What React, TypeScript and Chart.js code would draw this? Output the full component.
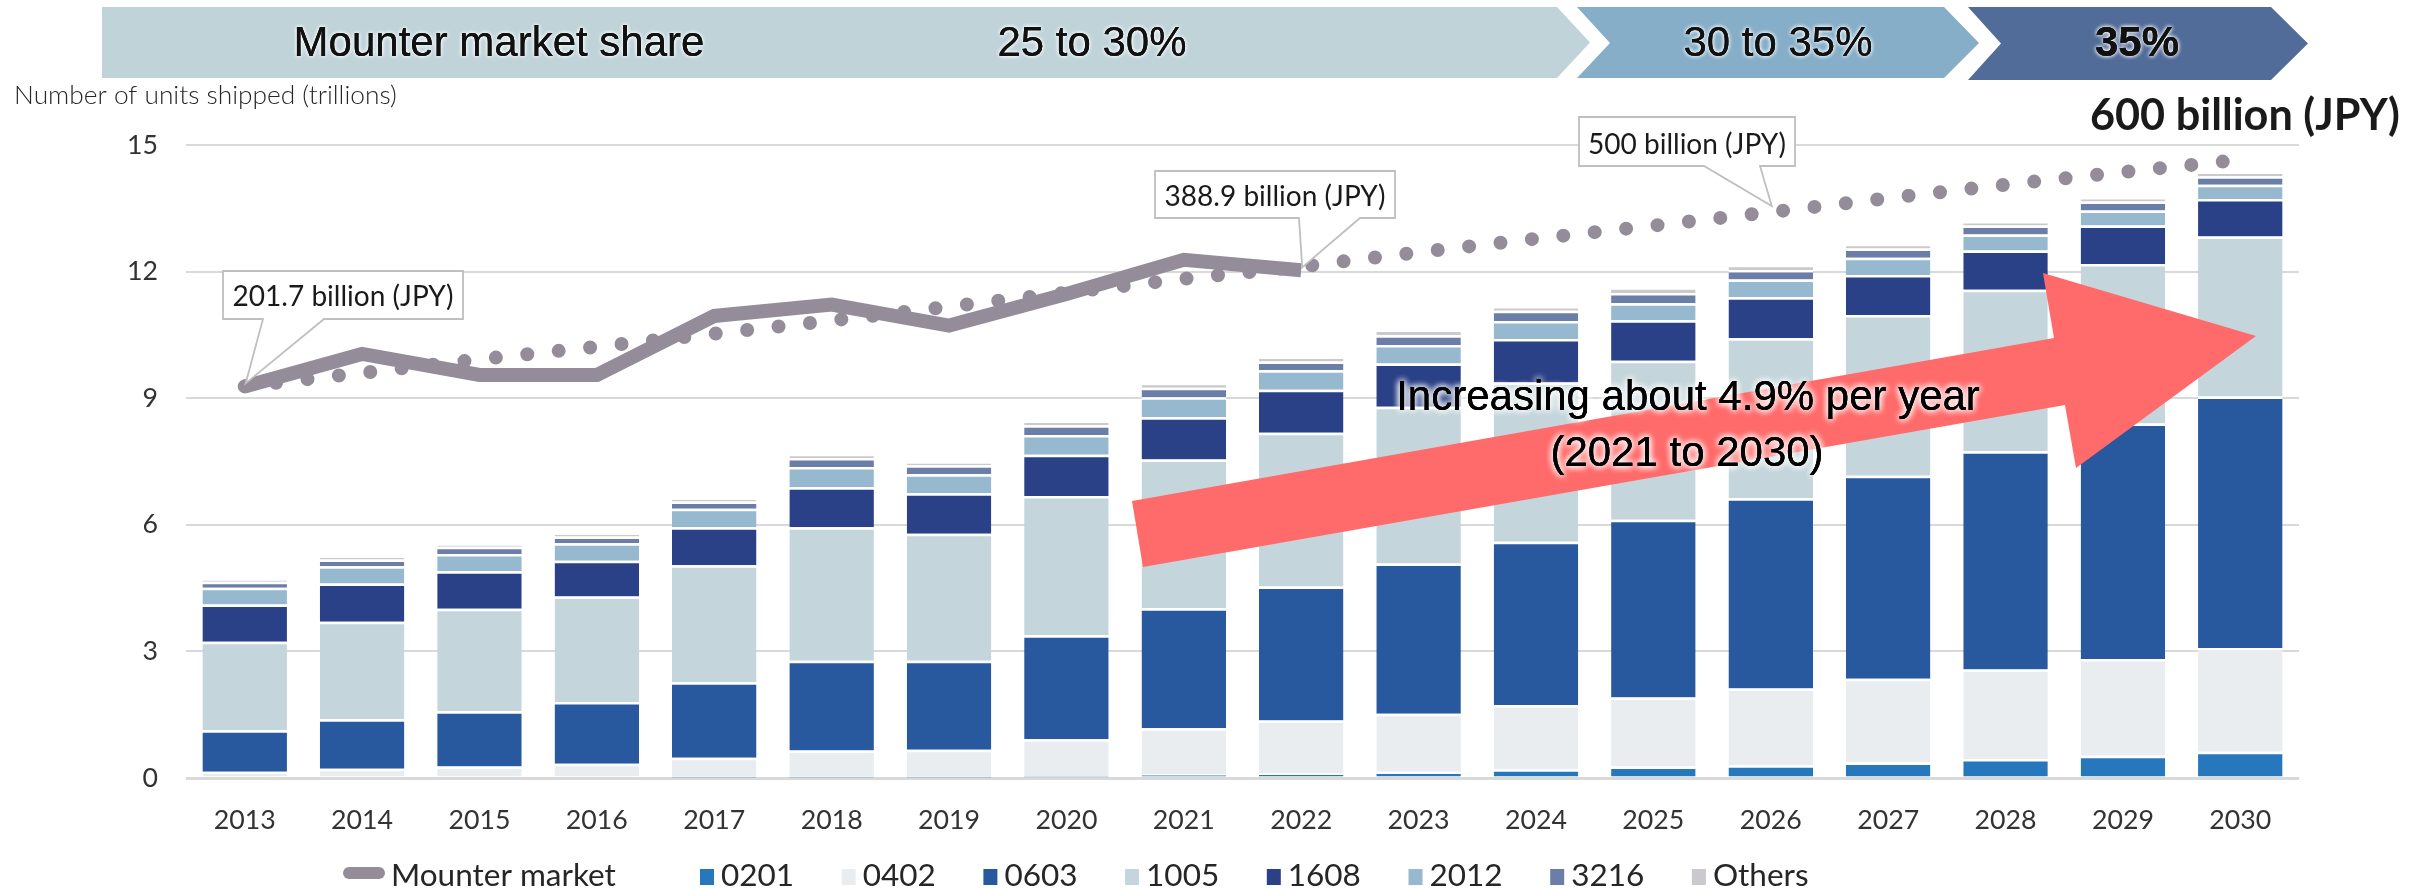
import React, { useEffect, useRef } from 'react';
import { Chart, registerables } from 'chart.js';

Chart.register(...registerables);

// ---------------- data ----------------
const years = ['2013', '2014', '2015', '2016', '2017', '2018', '2019', '2020', '2021', '2022', '2023', '2024', '2025', '2026', '2027', '2028', '2029', '2030'];

const units0201 = [0, 0, 0, 0, 0.01, 0.01, 0.01, 0.02, 0.08, 0.11, 0.15, 0.21, 0.27, 0.30, 0.37, 0.45, 0.53, 0.62];
const units0402 = [0.15, 0.22, 0.27, 0.34, 0.47, 0.64, 0.66, 0.90, 1.10, 1.25, 1.37, 1.52, 1.64, 1.82, 1.98, 2.12, 2.29, 2.46];
const units0603 = [0.98, 1.17, 1.31, 1.46, 1.79, 2.13, 2.11, 2.46, 2.84, 3.18, 3.56, 3.87, 4.21, 4.51, 4.81, 5.17, 5.58, 5.96];
const units1005 = [2.10, 2.31, 2.43, 2.50, 2.77, 3.16, 3.01, 3.30, 3.53, 3.64, 3.72, 3.77, 3.77, 3.79, 3.81, 3.83, 3.78, 3.79];
const units1608 = [0.88, 0.91, 0.89, 0.85, 0.90, 0.95, 0.96, 0.98, 1.00, 1.02, 1.02, 1.03, 0.96, 0.97, 0.95, 0.93, 0.91, 0.89];
const units2012 = [0.40, 0.41, 0.41, 0.41, 0.44, 0.48, 0.45, 0.47, 0.47, 0.46, 0.44, 0.43, 0.40, 0.42, 0.41, 0.38, 0.36, 0.34];
const units3216 = [0.14, 0.16, 0.17, 0.16, 0.17, 0.21, 0.21, 0.23, 0.23, 0.21, 0.23, 0.24, 0.24, 0.23, 0.22, 0.21, 0.21, 0.20];
const unitsOthers = [0.05, 0.07, 0.05, 0.08, 0.07, 0.09, 0.07, 0.11, 0.11, 0.12, 0.14, 0.11, 0.14, 0.12, 0.10, 0.10, 0.10, 0.10];

const mounterMarket = [9.28, 10.05, 9.55, 9.55, 10.95, 11.22, 10.72, 11.47, 12.28, 12.03, null, null, null, null, null, null, null, null];
const mounterTrend = [9.28, 9.60, 9.92, 10.22, 10.53, 10.84, 11.17, 11.50, 11.83, 12.12, 12.46, 12.78, 13.09, 13.41, 13.74, 14.06, 14.36, 14.65];

const yTicks = [0, 3, 6, 9, 12, 15];

const sizeLabels = ['0201', '0402', '0603', '1005', '1608', '2012', '3216', 'Others'];
const sizeColors = ['#2777bd', '#e9edf0', '#28589e', '#c4d6db', '#2b4187', '#97b9cf', '#6a7ea8', '#cbc9ce'];
const sizeSeries = [units0201, units0402, units0603, units1005, units1608, units2012, units3216, unitsOthers];

const lineLabel = 'Mounter market';
const yTitle = 'Number of units shipped (trillions)';
const shareTitle = 'Mounter market share';
const shareBands = ['25 to 30%', '30 to 35%', '35%'];
const callout2013 = '201.7 billion (JPY)';
const callout2022 = '388.9 billion (JPY)';
const callout2026 = '500 billion (JPY)';
const endValue = '600 billion (JPY)';
const growthLine1 = 'Increasing about 4.9% per year';
const growthLine2 = '(2021 to 2030)';

// ---------------- style ----------------
const LINE_COLOR = '#948d99';
const BAND_COLORS = ['#bfd3d9', '#86aec8', '#526c99'];
const ARROW_COLOR = '#ff6a6a';
const SANS = '"Liberation Sans", Arial, sans-serif';
const CAL = 'Lato, "Open Sans", sans-serif';
const TEXT_DARK = '#262626';

function fitSize(text: string, family: string, weight: string, target: number) {
  const c = document.createElement('canvas').getContext('2d')!;
  c.font = `${weight} 100px ${family}`;
  const w = c.measureText(text).width || 1;
  return (100 * target) / w;
}

function glowText(ctx: CanvasRenderingContext2D, text: string, x: number, y: number, font: string, color: string, blur: number, passes: number) {
  ctx.save();
  ctx.font = font;
  ctx.textAlign = 'center';
  ctx.textBaseline = 'alphabetic';
  ctx.fillStyle = color;
  ctx.shadowColor = 'rgba(255,255,255,1)';
  ctx.shadowBlur = blur;
  for (let i = 0; i < passes; i++) ctx.fillText(text, x, y);
  ctx.shadowBlur = 0;
  ctx.fillText(text, x, y);
  ctx.restore();
}

function callout(ctx: CanvasRenderingContext2D, box: number[], base: number[], tip: { x: number; y: number }, text: string, baseline: number, font: string) {
  const [l, t, w, h] = box;
  const b = t + h;
  ctx.save();
  ctx.beginPath();
  ctx.moveTo(l, t);
  ctx.lineTo(l + w, t);
  ctx.lineTo(l + w, b);
  ctx.lineTo(base[1], b);
  ctx.lineTo(tip.x, tip.y);
  ctx.lineTo(base[0], b);
  ctx.lineTo(l, b);
  ctx.closePath();
  ctx.fillStyle = '#ffffff';
  ctx.fill();
  ctx.strokeStyle = '#bfbfbf';
  ctx.lineWidth = 1.8;
  ctx.stroke();
  ctx.font = font;
  ctx.fillStyle = '#1a1a1a';
  ctx.textAlign = 'center';
  ctx.textBaseline = 'alphabetic';
  ctx.fillText(text, l + w / 2, baseline);
  ctx.restore();
}

export default function App() {
  const ref = useRef<HTMLCanvasElement>(null);

  useEffect(() => {
    document.body.style.margin = '0';
    const tickSize = fitSize('2013', CAL, 'normal', 62);
    const legendSize = fitSize('Mounter market', CAL, 'normal', 225);
    const titleSize = fitSize(yTitle, CAL, '300', 383);
    const calloutSize = fitSize(callout2013, CAL, 'normal', 221);
    const endSize = fitSize(endValue, CAL, 'bold', 310);

    const overlay = {
      id: 'overlay',
      beforeDraw(chart: any) {
        const ctx: CanvasRenderingContext2D = chart.ctx;
        ctx.save();
        // share banner chevrons
        const bands = [
          [[102, 7], [1557, 7], [1590, 42.5], [1557, 78], [102, 78]],
          [[1577, 7], [1944, 7], [1979, 43], [1944, 78], [1577, 78], [1610, 43]],
          [[1968, 7], [2271, 7], [2308, 43.5], [2271, 80], [1968, 80], [2001, 43.5]],
        ];
        bands.forEach((pts, i) => {
          ctx.beginPath();
          pts.forEach(([x, y], j) => (j ? ctx.lineTo(x, y) : ctx.moveTo(x, y)));
          ctx.closePath();
          ctx.fillStyle = BAND_COLORS[i];
          ctx.fill();
        });
        ctx.restore();
        const bf = `normal 42px ${SANS}`;
        glowText(ctx, shareTitle, 499, 55.5, bf, '#111111', 4, 2);
        glowText(ctx, shareBands[0], 1092, 55.5, bf, '#111111', 4, 2);
        glowText(ctx, shareBands[1], 1778, 55.5, bf, '#111111', 4, 2);
        glowText(ctx, shareBands[2], 2137, 56, `bold 42px ${SANS}`, '#111111', 4, 2);

        // y axis title
        ctx.save();
        ctx.font = `300 ${titleSize}px ${CAL}`;
        ctx.fillStyle = '#262626';
        ctx.textAlign = 'left';
        ctx.textBaseline = 'alphabetic';
        ctx.fillText(yTitle, 14, 104);
        ctx.restore();
      },
      afterDatasetsDraw(chart: any) {
        const ctx: CanvasRenderingContext2D = chart.ctx;
        // big growth arrow
        const arrow = [[1132, 501], [2054, 338], [2043, 273], [2256, 336], [2076, 468], [2065, 405], [1143, 567]];
        ctx.save();
        ctx.beginPath();
        arrow.forEach(([x, y], j) => (j ? ctx.lineTo(x, y) : ctx.moveTo(x, y)));
        ctx.closePath();
        ctx.fillStyle = ARROW_COLOR;
        ctx.fill();
        ctx.restore();
        const af = `normal 42px ${SANS}`;
        glowText(ctx, growthLine1, 1688, 410, af, '#000000', 7, 3);
        glowText(ctx, growthLine2, 1687, 466, af, '#000000', 7, 3);

        // callouts
        const cf = `normal ${calloutSize}px ${CAL}`;
        const solid = chart.getDatasetMeta(0).data;
        const trend = chart.getDatasetMeta(1).data;
        const p0 = solid[0];
        const p9 = solid[9];
        const p13 = trend[13];
        callout(ctx, [223, 271, 240, 48], [263, 324], { x: p0.x + 1, y: p0.y - 3 }, callout2013, 306, cf);
        callout(ctx, [1155, 171, 240, 47], [1299, 1360], { x: p9.x + 1, y: p9.y - 3 }, callout2022, 206, cf);
        callout(ctx, [1579, 117, 216, 49], [1704, 1760], { x: p13.x + 1, y: p13.y - 6 }, callout2026, 154, cf);
      },
      afterDraw(chart: any) {
        const ctx: CanvasRenderingContext2D = chart.ctx;
        ctx.save();
        // end value label
        ctx.font = `bold ${endSize}px ${CAL}`;
        ctx.fillStyle = '#1a1a1a';
        ctx.textAlign = 'left';
        ctx.textBaseline = 'alphabetic';
        ctx.fillText(endValue, 2090, 130);

        // legend
        ctx.font = `normal ${legendSize}px ${CAL}`;
        const lineDs = chart.data.datasets[0];
        ctx.save();
        ctx.strokeStyle = lineDs.borderColor;
        ctx.lineCap = 'round';
        ctx.lineWidth = 12;
        ctx.beginPath();
        ctx.moveTo(349, 873);
        ctx.lineTo(379, 873);
        ctx.stroke();
        ctx.restore();
        ctx.fillStyle = TEXT_DARK;
        ctx.fillText(lineDs.label, 391, 886);
        const barSets = chart.data.datasets.slice(2);
        barSets.forEach((ds: any, i: number) => {
          const bx = 700 + i * 141.7;
          ctx.fillStyle = ds.backgroundColor;
          ctx.fillRect(bx, 869, 14, 16);
          ctx.fillStyle = TEXT_DARK;
          ctx.fillText(ds.label, bx + 21, 886);
        });
        ctx.restore();
      },
    };

    const tickFont = { family: CAL, size: tickSize, weight: 'normal' as any };

    const chart = new Chart(ref.current!, {
      type: 'bar',
      data: {
        labels: years,
        datasets: [
          {
            type: 'line',
            label: lineLabel,
            data: mounterMarket,
            borderColor: LINE_COLOR,
            backgroundColor: LINE_COLOR,
            borderWidth: 14,
            borderJoinStyle: 'miter',
            borderCapStyle: 'butt',
            pointRadius: 0,
            fill: false,
            spanGaps: false,
            stack: 'market',
          } as any,
          {
            type: 'line',
            label: 'Mounter market trend',
            data: mounterTrend,
            borderColor: LINE_COLOR,
            borderWidth: 14,
            borderDash: [0, 31.6],
            borderCapStyle: 'round',
            pointRadius: 0,
            fill: false,
            stack: 'trend',
          } as any,
          ...sizeSeries.map((data, i) => ({
            type: 'bar' as const,
            label: sizeLabels[i],
            data,
            backgroundColor: sizeColors[i],
            borderColor: '#ffffff',
            borderWidth: { top: 2.5, right: 0, bottom: 0, left: 0 },
            borderSkipped: false as any,
            stack: 'units',
          })),
        ],
      },
      options: {
        responsive: true,
        maintainAspectRatio: false,
        animation: false,
        devicePixelRatio: 1,
        events: [],
        layout: { padding: { top: 145, right: 132, bottom: 0, left: 0 } },
        plugins: {
          legend: { display: false },
          tooltip: { enabled: false },
          title: { display: false },
        },
        scales: {
          x: {
            stacked: true,
            grid: { display: false, drawTicks: false },
            border: { display: false },
            ticks: { font: tickFont, color: '#333333', padding: 26, maxRotation: 0 },
            afterFit: (s: any) => {
              s.height = 112;
            },
          },
          y: {
            stacked: true,
            min: 0,
            max: 15,
            afterBuildTicks: (s: any) => {
              s.ticks = yTicks.map((v) => ({ value: v }));
            },
            grid: {
              color: '#d9d9d9',
              lineWidth: (c: any) => (c.tick && c.tick.value === 0 ? 3 : 2),
              drawTicks: false,
            },
            border: { display: false },
            ticks: { font: tickFont, color: '#333333', padding: 28 },
            afterFit: (s: any) => {
              s.width = 186;
            },
          },
        },
      } as any,
      plugins: [overlay],
    });
    return () => chart.destroy();
  }, []);

  return (
    <div style={{ position: 'absolute', left: 0, top: 0, width: 2431, height: 890 }}>
      <canvas ref={ref} />
    </div>
  );
}
